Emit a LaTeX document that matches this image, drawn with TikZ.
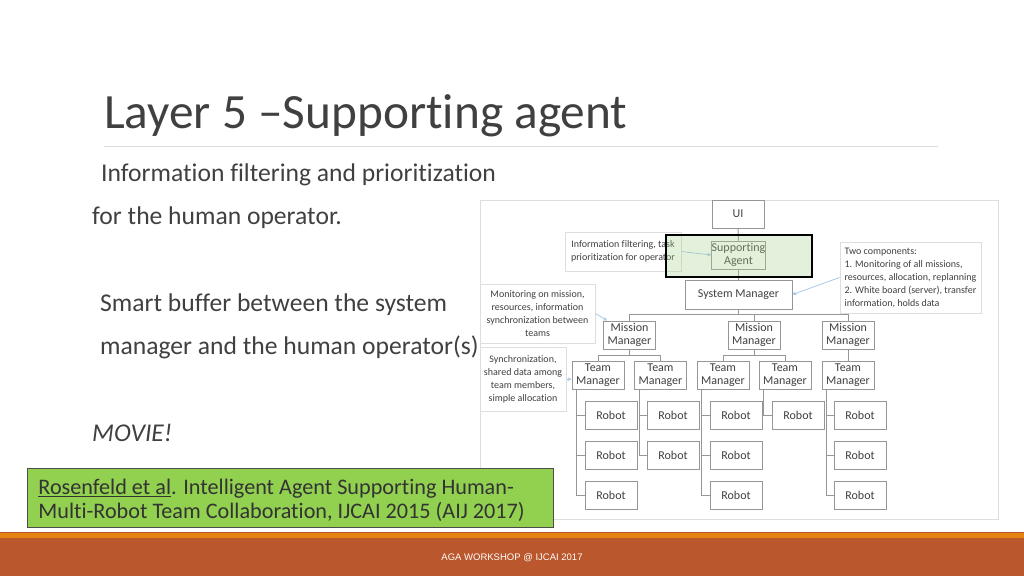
\documentclass[tikz,border=0pt]{standalone}
\usepackage{fontspec}
\setmainfont{Carlito}[RawFeature={-liga}]
\newfontfamily\footfont{Liberation Sans}
\definecolor{bodytext}{RGB}{64,64,64}
\definecolor{boxline}{RGB}{150,150,150}
\definecolor{frameline}{RGB}{222,222,222}
\definecolor{notearrow}{RGB}{157,195,230}
\definecolor{highlight}{RGB}{169,209,142}
\definecolor{citegreen}{RGB}{146,208,80}
\definecolor{barorange}{RGB}{228,131,18}
\definecolor{barbrown}{RGB}{186,87,44}
\tikzset{
  slidetext/.style={anchor=base west,inner sep=0pt,text=bodytext,font=\fontsize{25.6}{30}\selectfont},
  orgbox/.style={draw=boxline,line width=1pt,fill=white,text=bodytext,inner sep=0pt,align=center,
    minimum width=52pt,minimum height=28pt,font=\fontsize{12}{13}\selectfont},
  notebox/.style={draw=frameline,line width=1pt,fill=white,text=bodytext,inner sep=0pt,align=center,
    font=\fontsize{10}{13}\selectfont},
  orgline/.style={draw=boxline,line width=1pt},
  notearrowline/.style={draw=notearrow,line width=.7pt,-stealth},
}
\newcommand{\robotbox}[3]{\node[orgbox] (#1) at (#2,#3) {Robot};}
\newcommand{\teambox}[2]{\node[orgbox] (#1) at (#2,375) {Team\\Manager};}
\newcommand{\missionbox}[2]{\node[orgbox] (#1) at (#2,335) {Mission\\Manager};}
\newcommand{\trunk}[2]{\draw[orgline] ([xshift=5pt]#1.south west) |- (#2.west);}
\begin{document}
\begin{tikzpicture}[x=1pt,y=-1pt]
\useasboundingbox (0,0) rectangle (1024,576);
\node[slidetext,font=\fontsize{49.3}{52}\selectfont] (title) at (104,128) {Layer 5 –Supporting agent};
\draw[frameline,line width=1pt] (104,146)--(938,146);
\node[slidetext] (lineone) at (101,181) {Information filtering and prioritization};
\node[slidetext] (linetwo) at (92,224) {for the human operator.};
\node[slidetext] (linethree) at (100,311) {Smart buffer between the system};
\node[slidetext] (linefour) at (100,354) {manager and the human operator(s)};
\node[slidetext,font=\fontsize{25.6}{30}\selectfont\itshape] (movie) at (92,441) {MOVIE!};
% picture frame
\draw[frameline,line width=1pt] (480,200) rectangle (998,519);
% notes
\node[notebox,minimum width=116pt,minimum height=39pt] (infonote) at (623,251.5) {Information filtering, task\\prioritization for operator};
\node[notebox,minimum width=115pt,minimum height=59pt] (monitornote) at (537.5,313.5) {Monitoring on mission,\\resources, information\\synchronization between\\teams};
\node[notebox,minimum width=86pt,minimum height=64pt] (syncnote) at (523,379) {Synchronization,\\shared data among\\team members,\\simple allocation};
\node[notebox,minimum width=141pt,minimum height=71pt,align=left] (twonote) at (910.5,277.5) {Two components:\\1. Monitoring of all missions,\\resources, allocation, replanning\\2. White board (server), transfer\\information, holds data};
% top of the tree
\node[orgbox] (ui) at (738,214) {UI};
\node[orgbox] (agent) at (738.5,255) {Supporting\\Agent};
\node[orgbox,minimum width=107pt,minimum height=29pt] (sysmanager) at (738.5,294.5) {System Manager};
\missionbox{missionone}{629.5}
\missionbox{missiontwo}{754}
\missionbox{missionthree}{848}
\teambox{teamone}{598}
\teambox{teamtwo}{660.5}
\teambox{teamthree}{723}
\teambox{teamfour}{785}
\teambox{teamfive}{848}
\robotbox{robotaa}{611}{415}
\robotbox{robotab}{611}{455}
\robotbox{robotac}{611}{495}
\robotbox{robotba}{673}{415}
\robotbox{robotbb}{673}{455}
\robotbox{robotca}{736}{415}
\robotbox{robotcb}{736}{455}
\robotbox{robotcc}{736}{495}
\robotbox{robotda}{798}{415}
\robotbox{robotea}{860}{415}
\robotbox{roboteb}{860}{455}
\robotbox{robotec}{860}{495}
% connectors
\draw[orgline] (ui)--(agent);
\draw[orgline] (agent)--(sysmanager);
\foreach \m in {missionone,missiontwo,missionthree}{
  \draw[orgline] (sysmanager.south)--++(0,5)-|(\m.north);
}
\draw[orgline] (missionone.south)--++(0,6)-|(teamone.north);
\draw[orgline] (missionone.south)--++(0,6)-|(teamtwo.north);
\draw[orgline] (missiontwo.south)--++(0,6)-|(teamthree.north);
\draw[orgline] (missiontwo.south)--++(0,6)-|(teamfour.north);
\draw[orgline] (missionthree)--(teamfive);
\trunk{teamone}{robotaa}\trunk{teamone}{robotab}\trunk{teamone}{robotac}
\trunk{teamtwo}{robotba}\trunk{teamtwo}{robotbb}
\trunk{teamthree}{robotca}\trunk{teamthree}{robotcb}\trunk{teamthree}{robotcc}
\trunk{teamfour}{robotda}
\trunk{teamfive}{robotea}\trunk{teamfive}{roboteb}\trunk{teamfive}{robotec}
\draw[notearrowline] (infonote.east)--(agent.west);
\draw[notearrowline] (monitornote.east)--([xshift=4pt]missionone.north west);
\draw[notearrowline] (syncnote.east)--(teamone.west|-syncnote.east);
\draw[notearrowline] (twonote.west)--(sysmanager.east);
% highlight
\node[draw=black,line width=1.6pt,fill=highlight,fill opacity=.32,draw opacity=1,inner sep=0pt,minimum width=146pt,minimum height=42pt] (agentmark) at (739,256) {};
% citation
\node[draw=black!70,line width=.8pt,fill=citegreen,inner sep=0pt,anchor=north west,minimum width=526pt,minimum height=59pt,
  text width=504pt,align=flush left,text=black!80,font=\fontsize{22.2}{24}\selectfont] (citation) at (27,468)
  {\rule{0pt}{20pt}\underline{Rosenfeld et al}. Intelligent Agent Supporting Human-\\Multi-Robot Team Collaboration, IJCAI 2015 (AIJ 2017)};
% footer bar
\fill[barbrown] (0,532) rectangle (1024,576);
\fill[barorange] (0,533) rectangle (1024,538);
\node[text=white,inner sep=0pt,font=\footfont\fontsize{9.5}{10}\selectfont] (footer) at (512,558) {AGA WORKSHOP @ IJCAI 2017};
\end{tikzpicture}
\end{document}
